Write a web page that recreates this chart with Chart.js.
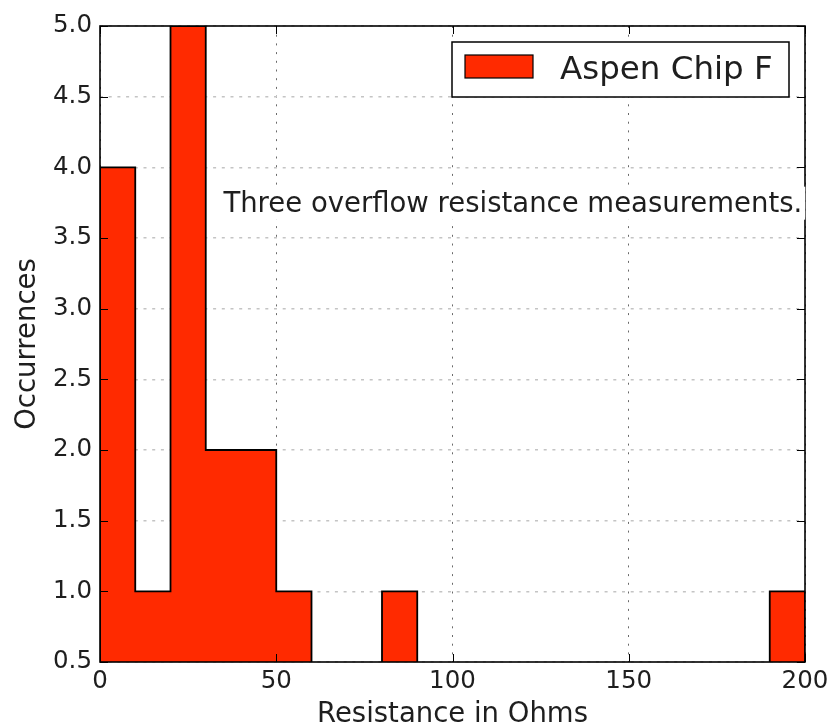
<!DOCTYPE html>
<html>
<head>
<meta charset="utf-8">
<script src="https://cdn.jsdelivr.net/npm/chart.js@4.4.1/dist/chart.umd.min.js"></script>
<style>
  html, body { margin: 0; padding: 0; background: #ffffff; }
  #wrap { width: 838px; height: 726px; }
</style>
</head>
<body>
<div id="wrap"><canvas id="hist" width="838" height="726"></canvas></div>
<script>
// Histogram of resistance readings, 10-ohm bins from 0 to 200
const binEdges = [0, 10, 20, 30, 40, 50, 60, 70, 80, 90, 100,
                  110, 120, 130, 140, 150, 160, 170, 180, 190, 200];
const counts   = [4, 1, 5, 2, 2, 1, 0, 0, 1, 0,
                  0, 0, 0, 0, 0, 0, 0, 0, 0, 1];
const seriesLabel = 'Aspen Chip F';
const noteText = 'Three overflow resistance measurements.';
const noteAt = { x: 35, y: 3.75 };
const xTicks = [0, 50, 100, 150, 200];
const yTicks = [0.5, 1.0, 1.5, 2.0, 2.5, 3.0, 3.5, 4.0, 4.5, 5.0];

const FILL = '#ff2a00';
const FONT = '"DejaVu Sans", "Liberation Sans", sans-serif';
const TEXT = '#1e1e1e';

// step outline of the filled histogram: rise at each left edge, close down at the last edge
const outline = [{ x: binEdges[0], y: 0 }];
counts.forEach((c, i) => outline.push({ x: binEdges[i], y: c }));
outline.push({ x: binEdges[binEdges.length - 1], y: counts[counts.length - 1] });
outline.push({ x: binEdges[binEdges.length - 1], y: 0 });

// frame, inward ticks, text box and legend drawn on top of the plot
const framePlugin = {
  id: 'frame',
  afterDatasetsDraw(chart) {
    const { ctx, chartArea: a, scales: { x, y } } = chart;
    ctx.save();
    ctx.strokeStyle = '#000';
    ctx.lineWidth = 1.6;
    ctx.strokeRect(a.left, a.top, a.right - a.left, a.bottom - a.top);
    ctx.lineWidth = 1;
    const tl = 8;
    ctx.beginPath();
    xTicks.forEach(v => {
      const px = Math.round(x.getPixelForValue(v)) + 0.5;
      ctx.moveTo(px, a.bottom); ctx.lineTo(px, a.bottom - tl);
      ctx.moveTo(px, a.top); ctx.lineTo(px, a.top + tl);
    });
    yTicks.forEach(v => {
      const py = Math.round(y.getPixelForValue(v)) + 0.5;
      ctx.moveTo(a.left, py); ctx.lineTo(a.left + tl, py);
      ctx.moveTo(a.right, py); ctx.lineTo(a.right - tl, py);
    });
    ctx.stroke();
    ctx.restore();
  },
  afterDraw(chart) {
    const { ctx, chartArea: a, scales: { x, y } } = chart;
    ctx.save();
    // annotation on a white box
    ctx.font = '27.5px ' + FONT;
    const tx = x.getPixelForValue(noteAt.x);
    const ty = y.getPixelForValue(noteAt.y);
    const tw = ctx.measureText(noteText).width;
    ctx.fillStyle = '#fff';
    ctx.fillRect(tx - 3, ty - 16, tw + 6, 33);
    ctx.fillStyle = TEXT;
    ctx.textBaseline = 'middle';
    ctx.textAlign = 'left';
    ctx.fillText(noteText, tx, ty + 2);

    // legend box in the upper right corner
    const ds = chart.data.datasets[0];
    const bx = a.right - 353, by = a.top + 16, bw = 337, bh = 55;
    ctx.fillStyle = '#fff';
    ctx.fillRect(bx, by, bw, bh);
    ctx.strokeStyle = '#000';
    ctx.lineWidth = 1.5;
    ctx.strokeRect(bx, by, bw, bh);
    ctx.fillStyle = FILL;
    ctx.fillRect(bx + 13, by + 13, 68, 23);
    ctx.lineWidth = 1.2;
    ctx.strokeRect(bx + 13, by + 13, 68, 23);
    ctx.fillStyle = TEXT;
    ctx.font = '32.5px ' + FONT;
    ctx.textBaseline = 'middle';
    ctx.fillText(ds.label, bx + 108, by + bh / 2 + 1);
    ctx.restore();
  }
};

new Chart(document.getElementById('hist'), {
  type: 'line',
  data: {
    datasets: [{
      label: seriesLabel,
      data: outline,
      stepped: true,
      fill: 'origin',
      backgroundColor: FILL,
      borderColor: '#000',
      borderWidth: 1.8,
      pointRadius: 0,
      tension: 0
    }]
  },
  options: {
    responsive: false,
    animation: false,
    events: [],
    layout: { padding: { left: 0, top: 26, right: 33, bottom: 0 } },
    plugins: { legend: { display: false }, tooltip: { enabled: false } },
    scales: {
      x: {
        type: 'linear',
        min: 0, max: 200,
        afterFit(s) { s.height = 64; },
        afterBuildTicks(s) { s.ticks = xTicks.map(v => ({ value: v })); },
        ticks: { color: TEXT, font: { family: FONT, size: 24.5 }, padding: 5, maxRotation: 0,
                 callback: v => String(v) },
        grid: { color: '#6a6a6a', lineWidth: 1, drawTicks: false },
        border: { display: false, dash: [2, 6.7] },
        title: { display: true, text: 'Resistance in Ohms', color: TEXT,
                 font: { family: FONT, size: 27.5, lineHeight: 0.8 }, padding: { top: 0, bottom: 0 } }
      },
      y: {
        type: 'linear',
        min: 0.5, max: 5.0,
        afterFit(s) { s.width = 100; },
        afterBuildTicks(s) { s.ticks = yTicks.map(v => ({ value: v })); },
        ticks: { color: TEXT, font: { family: FONT, size: 24.5 }, padding: 8,
                 callback: v => Number(v).toFixed(1) },
        grid: { color: '#c4c4c4', lineWidth: 1.5, drawTicks: false },
        border: { display: false, dash: [3, 5.7] },
        title: { display: true, text: 'Occurrences', color: TEXT,
                 font: { family: FONT, size: 27.5, lineHeight: 1.2 }, padding: { top: 11, bottom: 0 } }
      }
    }
  },
  plugins: [framePlugin]
});
</script>
</body>
</html>
